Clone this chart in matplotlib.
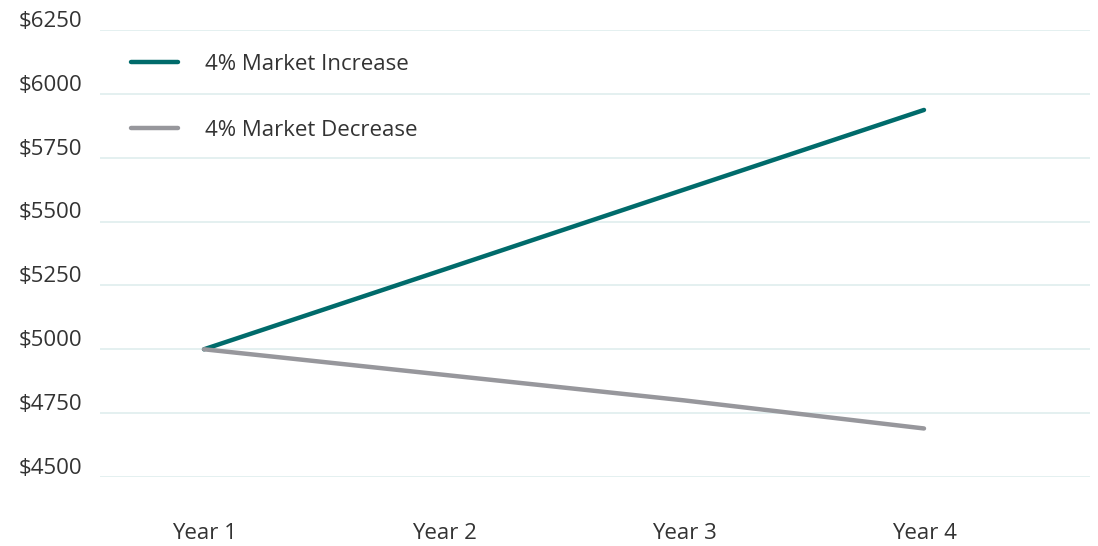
import matplotlib
matplotlib.use('Agg')
import matplotlib.pyplot as plt
from matplotlib.transforms import ScaledTranslation

# data
years = ['Year 1', 'Year 2', 'Year 3', 'Year 4']
increase = [5000, 5312, 5625, 5937]
decrease = [5000, 4900, 4800, 4690]
yticks = [4500, 4750, 5000, 5250, 5500, 5750, 6000, 6250]

plt.rcParams['font.family'] = ['Open Sans', 'DejaVu Sans']

fig = plt.figure(figsize=(10.98, 5.46), dpi=100)
ax = fig.add_axes([100/1098, 1-477/546, 990/1098, 447/546])

x = range(len(years))
ax.plot(x, increase, color='#006b6b', lw=3.2, solid_capstyle='round', label='4% Market Increase')
ax.plot(x, decrease, color='#97979c', lw=3.2, solid_capstyle='round', label='4% Market Decrease')

ax.set_xlim(-104/240, 3 + 166/240)
ax.set_ylim(4500, 6250)
ax.set_yticks(yticks)
ax.set_yticklabels(['$' + str(v) for v in yticks])
ax.set_xticks(list(x))
ax.set_xticklabels(years)
ax.grid(axis='y', color='#e2efef', lw=1.3)
ax.set_axisbelow(True)
for s in ax.spines.values():
    s.set_visible(False)
ax.tick_params(length=0, labelsize=16, colors='#333333')
ax.tick_params(axis='y', pad=13)
ax.tick_params(axis='x', pad=33)

# y labels sit just above their grid lines
for lab in ax.get_yticklabels():
    lab.set_transform(lab.get_transform() + ScaledTranslation(0, 8/72, fig.dpi_scale_trans))

leg = ax.legend(loc='upper left', bbox_to_anchor=(22/990, 1 - 15/447), frameon=False,
                fontsize=16, handlelength=2.1, handletextpad=1.25, labelspacing=2.03,
                borderaxespad=0)
for t in leg.get_texts():
    t.set_color('#333333')

fig.savefig('out.png', dpi=100)
